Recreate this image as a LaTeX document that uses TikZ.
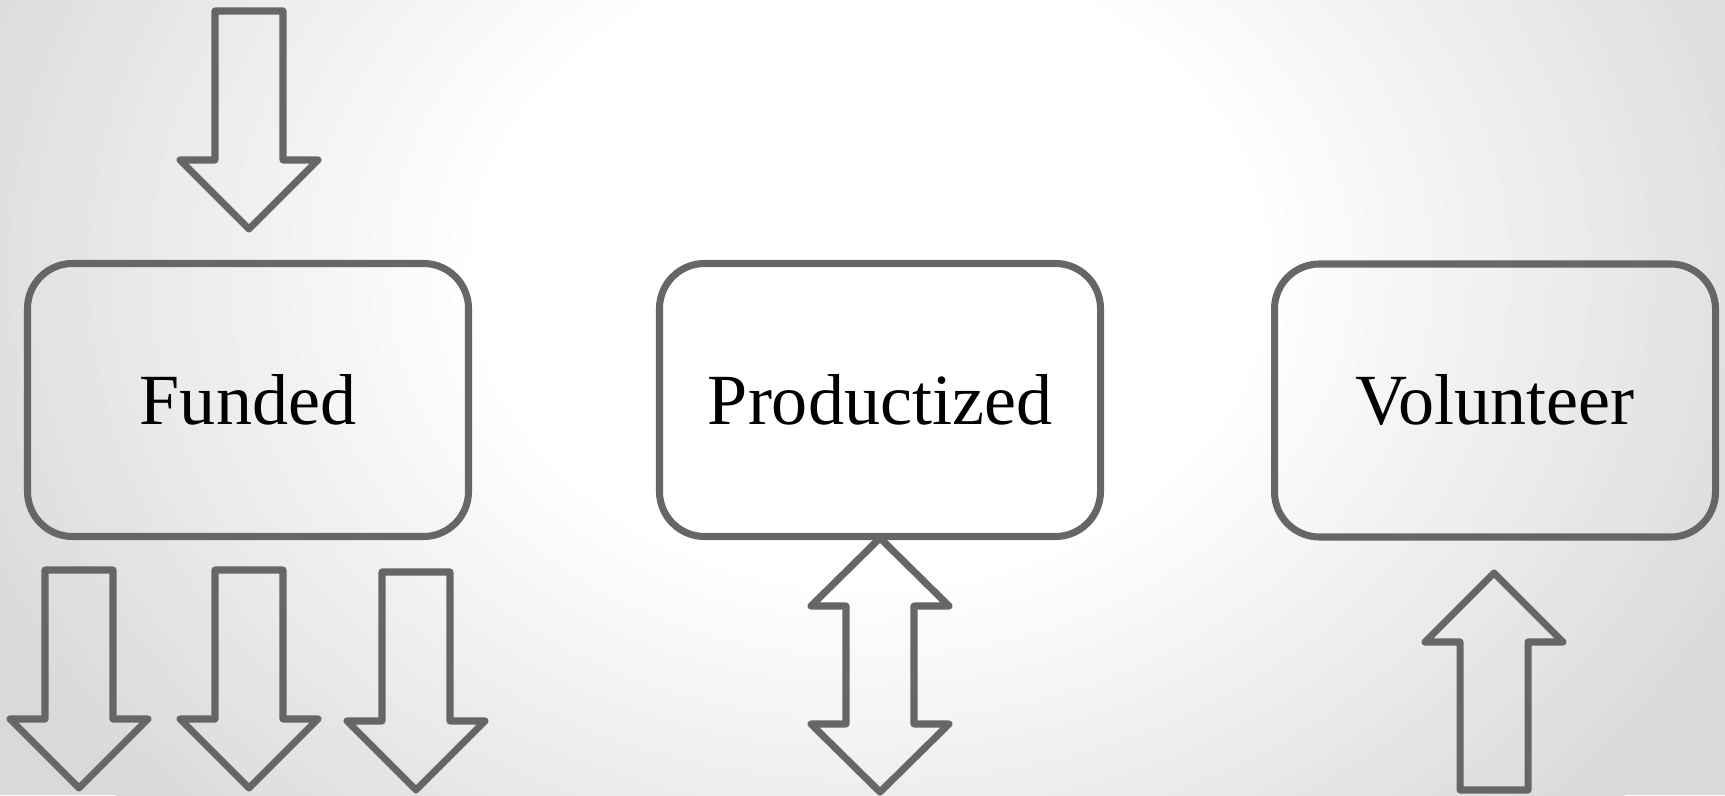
\documentclass[tikz,border=0pt]{standalone}
\usepackage{fontspec}
\setmainfont{Liberation Serif}

\begin{document}
\begin{tikzpicture}[
  stage/.style={rectangle,rounded corners=0.9cm,draw=black!60,line width=4pt,
                minimum width=8.82cm,minimum height=5.46cm,
                font=\fontsize{41}{49}\selectfont},
  blk/.style={draw=black!60,line width=4pt,line join=round},
  downarr/.pic={\draw[blk] (0,0) -- (1.38,1.38) -- (0.68,1.38) -- (0.68,4.36)
                -- (-0.68,4.36) -- (-0.68,1.38) -- (-1.38,1.38) -- cycle;},
  uparr/.pic={\draw[blk] (0,0) -- (1.38,-1.38) -- (0.68,-1.38) -- (0.68,-4.34)
                -- (-0.68,-4.34) -- (-0.68,-1.38) -- (-1.38,-1.38) -- cycle;},
  botharr/.pic={\draw[blk] (0,0) -- (1.38,-1.36) -- (0.68,-1.36) -- (0.68,-3.72)
                -- (1.38,-3.72) -- (0,-5.08) -- (-1.38,-3.72) -- (-0.68,-3.72)
                -- (-0.68,-1.36) -- (-1.38,-1.36) -- cycle;}]
%% ── Backdrop — soft radial fade, white near the top middle ─────────────
\useasboundingbox (0,0) rectangle (34.5,15.9);
\begin{scope}
  \clip (0,0) rectangle (34.5,15.9);
  \fill[black!15] (0,0) rectangle (34.5,15.9);
  \foreach \i in {0,...,30}{
    \pgfmathsetmacro\rr{1-0.6*\i/30}
    \pgfmathsetmacro\gg{15*(1-\i/30)}
    \fill[black!\gg] (17.4,10.5) ellipse [x radius={20*\rr},y radius={16*\rr}];
  }
\end{scope}
%% ── The three boxes ─────────────────────────────────────────────────────
\node[stage](funded) at (4.96,7.9) {Funded};
\node[stage](product) at (17.6,7.9) {Productized};
\node[stage](volunteer) at (29.9,7.89) {Volunteer};
%% ── Funded: one arrow in, three arrows out ──────────────────────────────
\pic at (4.98,11.32) {downarr};
\foreach \x/\y in {1.58/0.14,4.98/0.14,8.32/0.10}
  \pic at (\x,\y) {downarr};
%% ── Productized: two-way arrow under the box ────────────────────────────
\pic at (17.6,5.14) {botharr};
%% ── Volunteer: arrow up into the box ────────────────────────────────────
\pic at (29.88,4.44) {uparr};
\end{tikzpicture}
\end{document}
